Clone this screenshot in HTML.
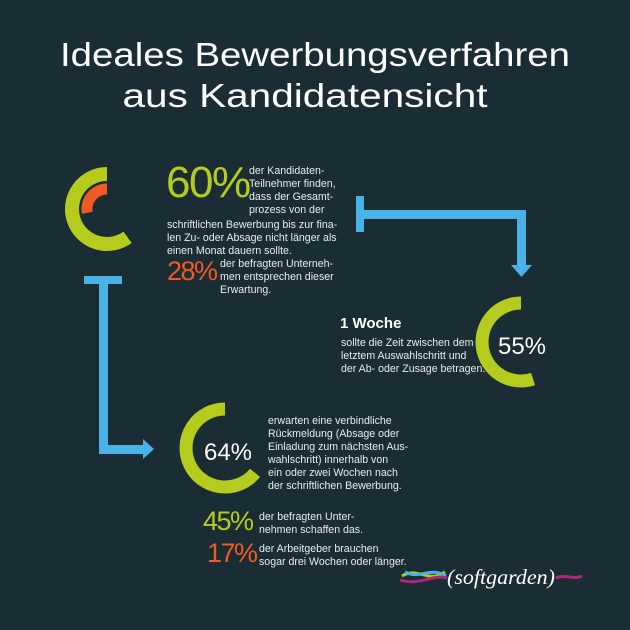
<!DOCTYPE html>
<html><head><meta charset="utf-8"><style>
html,body{margin:0;padding:0;background:#1a2c34;}
#c{position:relative;width:630px;height:630px;background:#1a2c34;overflow:hidden;font-family:"Liberation Sans",sans-serif;color:#fff;}
.t{position:absolute;font-size:10.6px;line-height:13px;color:#e8ecee;}
.big{position:absolute;font-family:"Liberation Sans",sans-serif;letter-spacing:-1.5px;}
</style></head><body>
<div id="c">
<svg id="s" width="630" height="630" style="position:absolute;left:0;top:0">
<text x="315" y="66" text-anchor="middle" font-size="33" fill="#fff" textLength="510" lengthAdjust="spacingAndGlyphs" font-family="Liberation Sans, sans-serif">Ideales Bewerbungsverfahren</text>
<text x="305" y="107" text-anchor="middle" font-size="33" fill="#fff" textLength="365" lengthAdjust="spacingAndGlyphs" font-family="Liberation Sans, sans-serif">aus Kandidatensicht</text>
<g fill="#4ab3e6">
<rect x="356" y="196" width="8" height="36"/><rect x="356" y="210" width="170" height="9"/><rect x="517" y="210" width="9" height="56"/><polygon points="511,265 532,265 521.5,277"/>
</g>
<g fill="#4ab3e6">
<rect x="84" y="276" width="38" height="8"/><rect x="99" y="276" width="9" height="178"/><rect x="99" y="445" width="46" height="9"/><polygon points="143,439 143,459 154,449"/>
</g>
<text x="522" y="354" text-anchor="middle" font-size="24" fill="#fff">55%</text>
<text x="228" y="460" text-anchor="middle" font-size="24" fill="#fff">64%</text>
<g>
<path d="M402,576 C418,566 428,584 445,572" stroke="#b5cc1e" stroke-width="3" fill="none"/>
<path d="M405,572 C420,580 430,566 446,576" stroke="#4ab3e6" stroke-width="3" fill="none"/>
<path d="M400,580 C420,586 432,574 447,578 M556,578 C566,574 574,580 582,576" stroke="#b0267f" stroke-width="3" fill="none"/>
<text x="447" y="584" font-size="21" fill="#fff" font-style="italic" font-family="Liberation Serif, serif" textLength="108" lengthAdjust="spacingAndGlyphs">(softgarden)</text>
</g>
</svg>
<div class="big" style="left:166px;top:158px;font-size:44px;color:#b5cc1e">60%</div>
<div class="t" style="left:249px;top:165px">der Kandidaten-<br>Teilnehmer finden,<br>dass der Gesamt-<br>prozess von der</div>
<div class="t" style="left:167px;top:219px">schriftlichen Bewerbung bis zur fina-<br>len Zu- oder Absage nicht länger als<br>einen Monat dauern sollte.</div>
<div class="big" style="left:167px;top:256px;font-size:27px;color:#f15a22">28%</div>
<div class="t" style="left:220px;top:258px">der befragten Unterneh-<br>men entsprechen dieser<br>Erwartung.</div>
<div style="position:absolute;left:340px;top:315px;font-size:15px;font-weight:bold;color:#fff">1 Woche</div>
<div class="t" style="left:341px;top:337px">sollte die Zeit zwischen dem<br>letztem Auswahlschritt und<br>der Ab- oder Zusage betragen.</div>
<div class="t" style="left:268px;top:415px">erwarten eine verbindliche<br>Rückmeldung (Absage oder<br>Einladung zum nächsten Aus-<br>wahlschritt) innerhalb von<br>ein oder zwei Wochen nach<br>der schriftlichen Bewerbung.</div>
<div class="big" style="left:203px;top:506px;font-size:27px;color:#b5cc1e">45%</div>
<div class="t" style="left:259px;top:511px">der befragten Unter-<br>nehmen schaffen das.</div>
<div class="big" style="left:207px;top:538px;font-size:27px;color:#f15a22">17%</div>
<div class="t" style="left:259px;top:543px">der Arbeitgeber brauchen<br>sogar drei Wochen oder länger.</div>
</div>
<script>
const donutNames = ["donut-60","donut-28","donut-55","donut-64"];
const donutValues = [60, 28, 55, 64];
const donutColors = ["#b5cc1e","#f15a22","#b5cc1e","#b5cc1e"];
const donutCenters = [[107,209],[107,209],[521,342],[225,448]];
const donutRadii = [35,20,39,39];
const donutWidths = [14,11,13,13];
const svg = document.getElementById('s');
function arcPath(cx, cy, r, pct){
  const a = pct/100*2*Math.PI;
  const x0 = cx, y0 = cy - r;
  const x1 = cx - r*Math.sin(a), y1 = cy - r*Math.cos(a);
  const large = pct > 50 ? 1 : 0;
  return `M${x0},${y0} A${r},${r} 0 ${large} 0 ${x1},${y1}`;
}
for (let i=0;i<donutValues.length;i++){
  const p = document.createElementNS('http://www.w3.org/2000/svg','path');
  p.setAttribute('d', arcPath(donutCenters[i][0], donutCenters[i][1], donutRadii[i], donutValues[i]));
  p.setAttribute('stroke', donutColors[i]);
  p.setAttribute('stroke-width', donutWidths[i]);
  p.setAttribute('fill','none');
  
  
  svg.insertBefore(p, svg.firstChild);
}
</script>
</body></html>
